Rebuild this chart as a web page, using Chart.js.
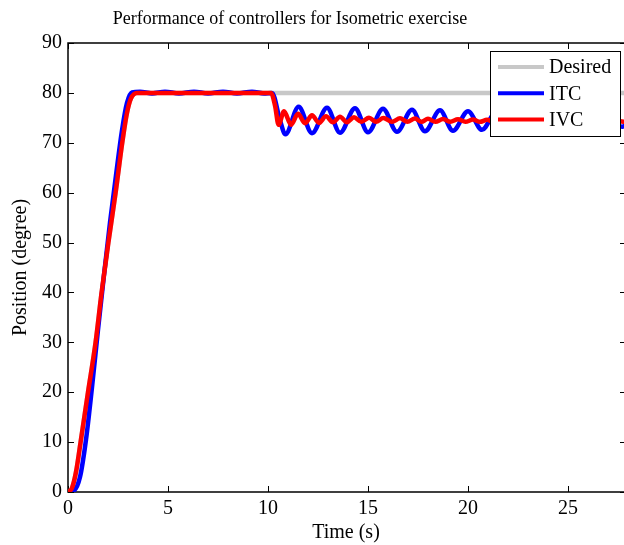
<!DOCTYPE html>
<html>
<head>
<meta charset="utf-8">
<script src="https://cdn.jsdelivr.net/npm/chart.js@4"></script>
<style>
  html, body { margin: 0; padding: 0; background: #fff; }
  canvas { display: block; }
</style>
</head>
<body>
<canvas id="posChart" width="624" height="545"></canvas>
<script>
// Reference trajectory
const desiredTime = [0, 0.2, 0.4, 0.63, 1.0, 1.38, 1.68, 2.02, 2.38, 2.73, 2.95, 3.15, 3.45, 27.9];
const desiredPos  = [0, 0.8, 4, 10, 20, 30, 40, 50, 60, 70.5, 76, 78.9, 80, 80];

// Isotonic controller (ITC)
const itcTime = [0, 0.3, 0.6, 0.9, 1.2, 1.5, 1.8, 2.1, 2.4, 2.7, 2.95, 3.2,
    3.6, 4.2, 4.85, 5.55, 6.3, 7.0, 7.75, 8.45, 9.2, 9.8, 10.2, 10.6,
    10.87, 11.53, 12.2, 12.95, 13.6, 14.35, 15.0, 15.75, 16.45, 17.2, 17.85, 18.6,
    19.25, 20.0, 20.7, 21.4, 22.1, 22.8, 23.5, 24.2, 24.9, 25.6, 26.3, 27.0, 27.7, 28.2];
const itcPos = [0, 0.3, 3, 10.5, 21, 32.5, 43.5, 54, 63.5, 72.5, 78, 80.1,
    80.25, 79.9, 80.25, 79.9, 80.25, 79.9, 80.25, 79.9, 80.25, 79.9, 80, 74.5,
    71.7, 77.2, 71.9, 77.0, 72.0, 76.9, 72.1, 76.8, 72.2, 76.6, 72.3, 76.5,
    72.4, 76.3, 72.6, 76.1, 72.7, 75.9, 72.8, 75.7, 73.0, 75.5, 73.1, 75.3, 73.2, 75.1];

// Isovelocity controller (IVC)
const ivcTime = [0, 0.2, 0.4, 0.63, 1.0, 1.38, 1.68, 2.02, 2.38, 2.73, 2.95, 3.15, 3.45,
    10.15, 10.35, 10.53, 10.8, 11.15, 11.5, 11.85, 12.2, 12.55, 12.9, 13.25, 13.6,
    13.95, 14.3, 14.67, 15.05, 15.4, 15.77, 16.2, 16.6, 16.97, 17.35, 17.67, 18.0,
    18.37, 18.75, 19.12, 19.5, 19.87, 20.25, 20.6, 20.95, 21.3, 21.65, 22.0, 22.4,
    22.75, 23.1, 23.5, 23.85, 24.2, 24.6, 24.95, 25.3, 25.7, 26.05, 26.4, 26.8,
    27.15, 27.5, 27.9];
const ivcPos = [0, 0.8, 4, 10, 20, 30, 40, 50, 60, 70.5, 76, 78.9, 80,
    80, 77.5, 73.6, 76.3, 73.6, 75.8, 73.9, 75.5, 74.0, 75.3, 74.1, 75.2,
    74.1, 75.1, 74.2, 75.0, 74.2, 74.95, 74.2, 74.9, 74.2, 74.85, 74.2, 74.8,
    74.2, 74.75, 74.2, 74.7, 74.2, 74.65, 74.2, 74.6, 74.15, 74.6, 74.15, 74.55,
    74.15, 74.5, 74.15, 74.5, 74.15, 74.45, 74.15, 74.45, 74.15, 74.4, 74.15, 74.4,
    74.15, 74.35, 74.15];

const xTicks = [0, 5, 10, 15, 20, 25];
const yTicks = [0, 10, 20, 30, 40, 50, 60, 70, 80, 90];

const serif = "'Liberation Serif', 'Times New Roman', serif";

function toPoints(t, v) {
    return t.map((x, i) => ({ x: x, y: v[i] }));
}

// Box, inward ticks, title and legend in the usual MATLAB look
const axesBox = {
    id: 'axesBox',
    beforeDatasetsDraw(chart) {
        const ctx = chart.ctx;
        const a = chart.chartArea;
        const xs = chart.scales.x, ys = chart.scales.y;
        ctx.save();
        ctx.strokeStyle = '#000';
        ctx.lineWidth = 1.5;
        ctx.beginPath();
        ctx.moveTo(a.right, a.top);
        ctx.lineTo(a.left, a.top);
        ctx.lineTo(a.left, a.bottom);
        ctx.lineTo(a.right, a.bottom);
        ctx.stroke();

        ctx.lineWidth = 1;
        ctx.beginPath();
        xTicks.forEach(v => {
            const px = Math.round(xs.getPixelForValue(v)) + 0.5;
            ctx.moveTo(px, a.bottom); ctx.lineTo(px, a.bottom - 6);
            ctx.moveTo(px, a.top); ctx.lineTo(px, a.top + 6);
        });
        yTicks.forEach(v => {
            const py = Math.round(ys.getPixelForValue(v)) + 0.5;
            ctx.moveTo(a.left, py); ctx.lineTo(a.left + 6, py);
            ctx.moveTo(a.right, py); ctx.lineTo(a.right - 4, py);
        });
        ctx.stroke();

        ctx.fillStyle = '#000';
        ctx.font = '18px ' + serif;
        ctx.textAlign = 'center';
        ctx.textBaseline = 'middle';
        ctx.fillText('Performance of controllers for Isometric exercise', 290, 19);
        ctx.restore();
    },
    afterDraw(chart) {
        const ctx = chart.ctx;
        const box = { x: 490.5, y: 51.5, w: 130, h: 85 };
        ctx.save();
        ctx.fillStyle = '#fff';
        ctx.fillRect(box.x, box.y, box.w, box.h);
        ctx.strokeStyle = '#000';
        ctx.lineWidth = 1;
        ctx.strokeRect(box.x, box.y, box.w, box.h);
        ctx.font = '20px ' + serif;
        ctx.textAlign = 'left';
        ctx.textBaseline = 'middle';
        chart.data.datasets.forEach((ds, i) => {
            const y = 67 + i * 26.3;
            ctx.strokeStyle = ds.borderColor;
            ctx.lineWidth = 4;
            ctx.beginPath();
            ctx.moveTo(498, y);
            ctx.lineTo(544, y);
            ctx.stroke();
            ctx.fillStyle = '#000';
            ctx.fillText(ds.label, 549, y + 1);
        });
        ctx.restore();
    }
};

const lineStyle = {
    pointRadius: 0,
    borderWidth: 4.5,
    cubicInterpolationMode: 'monotone',
    borderJoinStyle: 'round',
    fill: false
};

new Chart(document.getElementById('posChart'), {
    type: 'line',
    data: {
        datasets: [
            // higher order is painted first, so IVC ends up on top
            Object.assign({ label: 'Desired', order: 3, data: toPoints(desiredTime, desiredPos), borderColor: '#c8c8c8' }, lineStyle),
            Object.assign({ label: 'ITC', order: 2, data: toPoints(itcTime, itcPos), borderColor: '#0000ff' }, lineStyle),
            Object.assign({ label: 'IVC', order: 1, data: toPoints(ivcTime, ivcPos), borderColor: '#ff0000' }, lineStyle)
        ]
    },
    options: {
        responsive: false,
        animation: false,
        devicePixelRatio: 1,
        layout: { padding: { top: 43, left: 0, right: 0, bottom: 0 } },
        plugins: {
            legend: { display: false },
            tooltip: { enabled: false }
        },
        scales: {
            x: {
                type: 'linear',
                min: 0,
                max: 27.8,
                grid: { display: false, drawTicks: false },
                border: { display: false },
                ticks: {
                    stepSize: 5,
                    includeBounds: false,
                    autoSkip: false,
                    maxRotation: 0,
                    padding: 5,
                    color: '#000',
                    font: { family: serif, size: 20 }
                },
                title: {
                    display: true,
                    text: 'Time (s)',
                    color: '#000',
                    padding: { top: 0, bottom: 0 },
                    font: { family: serif, size: 20 }
                },
                afterFit(scale) { scale.height = 53; }
            },
            y: {
                min: 0,
                max: 90,
                grid: { display: false, drawTicks: false },
                border: { display: false },
                ticks: {
                    stepSize: 10,
                    padding: 6,
                    color: '#000',
                    font: { family: serif, size: 20 }
                },
                title: {
                    display: true,
                    text: 'Position (degree)',
                    color: '#000',
                    padding: { top: 9, bottom: 0 },
                    font: { family: serif, size: 20 }
                },
                afterFit(scale) { scale.width = 68; }
            }
        }
    },
    plugins: [axesBox]
});
</script>
</body>
</html>
